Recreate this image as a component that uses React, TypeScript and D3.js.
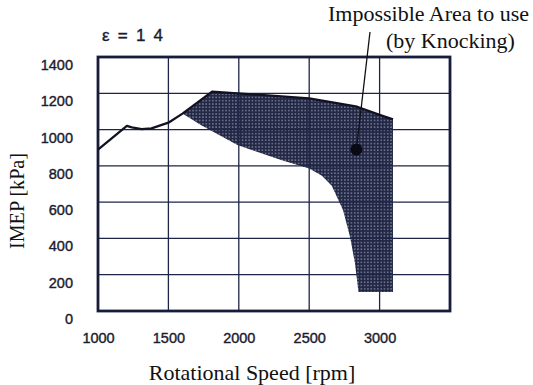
import React, { useEffect, useRef } from "react";
import * as d3 from "d3";

// axis ticks
const rpmTicks = [1000, 1500, 2000, 2500, 3000];
const imepTicks = [0, 200, 400, 600, 800, 1000, 1200, 1400];

// full-load IMEP line (upper curve)
const topRpm = [1000, 1205, 1240, 1310, 1380, 1500, 1600, 1810, 1990, 2500, 2840, 3005, 3095];
const topImep = [890, 1020, 1012, 1003, 1007, 1038, 1088, 1209, 1200, 1172, 1126, 1080, 1056];

// knock limit (lower edge of the shaded area), left to right
const knockRpm = [1600, 1730, 1990, 2300, 2500, 2590, 2660, 2740, 2790, 2825, 2850];
const knockImep = [1088, 1025, 915, 832, 786, 745, 690, 557, 409, 263, 105];

// corner where shaded area ends
const areaEndRpm = 3095;
const areaFloorImep = 105;

// annotation dot
const markRpm = 2835;
const markImep = 890;

const App = () => {
  const svgRef = useRef<SVGSVGElement>(null);

  useEffect(() => {
    const svg = d3.select(svgRef.current);
    svg.selectAll("*").remove();

    // ----- scales
    const x = d3.scaleLinear().domain([1000, 3500]).range([98, 450]);
    const y = d3.scaleLinear().domain([0, 1400]).range([311, 57]);

    // ----- dotted fill pattern
    const defs = svg.append("defs");
    const pat = defs
      .append("pattern")
      .attr("id", "dots")
      .attr("patternUnits", "userSpaceOnUse")
      .attr("width", 3.3)
      .attr("height", 3.3);
    pat.append("rect").attr("width", 3.3).attr("height", 3.3).attr("fill", "#232846");
    pat
      .append("circle")
      .attr("cx", 1.65)
      .attr("cy", 1.65)
      .attr("r", 0.7)
      .attr("fill", "#aeb3c6");

    // ----- shaded area: top curve from 1600, down the right side, back along knock limit
    const top = topRpm.map((r, i) => [r, topImep[i]] as [number, number]);
    const knock = knockRpm.map((r, i) => [r, knockImep[i]] as [number, number]);
    const areaPts: [number, number][] = [
      ...top.filter(d => d[0] >= 1600),
      [areaEndRpm, areaFloorImep],
      ...knock.slice().reverse()
    ];
    const line = d3
      .line<[number, number]>()
      .x(d => x(d[0]))
      .y(d => y(d[1]));

    svg
      .append("path")
      .attr("d", line(areaPts) + "Z")
      .attr("fill", "url(#dots)");

    // ----- grid
    const grid = svg.append("g").attr("stroke", "#1e2547").attr("stroke-width", 1.3);
    grid
      .selectAll(".vg")
      .data(rpmTicks.slice(1))
      .join("line")
      .attr("x1", d => x(d))
      .attr("x2", d => x(d))
      .attr("y1", y(1400))
      .attr("y2", y(0));
    grid
      .selectAll(".hg")
      .data(imepTicks.slice(1, -1))
      .join("line")
      .attr("x1", x(1000))
      .attr("x2", x(3500))
      .attr("y1", d => y(d))
      .attr("y2", d => y(d));

    // frame
    svg
      .append("rect")
      .attr("x", x(1000))
      .attr("y", y(1400))
      .attr("width", x(3500) - x(1000))
      .attr("height", y(0) - y(1400))
      .attr("fill", "none")
      .attr("stroke", "#171c3a")
      .attr("stroke-width", 2.8);

    // ----- upper IMEP curve
    svg
      .append("path")
      .attr("d", line(top))
      .attr("fill", "none")
      .attr("stroke", "#111122")
      .attr("stroke-width", 2.3)
      .attr("stroke-linejoin", "round");

    // ----- axes (labels only)
    const tickFont = "'Liberation Sans', Arial, sans-serif";
    const xAxis = svg
      .append("g")
      .attr("transform", `translate(0,${y(0)})`)
      .call(d3.axisBottom(x).tickValues(rpmTicks).tickSize(0).tickFormat(d3.format("d")));
    xAxis.select(".domain").remove();
    xAxis
      .selectAll("text")
      .attr("dy", null)
      .attr("y", 32)
      .attr("font-size", 14.5)
      .attr("font-family", tickFont)
      .attr("fill", "#1c1c30")
      .attr("stroke", "#1c1c30")
      .attr("stroke-width", 0.4);

    const yAxis = svg
      .append("g")
      .attr("transform", `translate(${x(1000)},0)`)
      .call(d3.axisLeft(y).tickValues(imepTicks).tickSize(0).tickPadding(25).tickFormat(d3.format("d")));
    yAxis.select(".domain").remove();
    yAxis
      .selectAll("text")
      .attr("dy", null)
      .attr("y", 12.5)
      .attr("font-size", 14.5)
      .attr("font-family", tickFont)
      .attr("fill", "#1c1c30")
      .attr("stroke", "#1c1c30")
      .attr("stroke-width", 0.4);

    // ----- titles
    const serif = "'Liberation Serif', 'Times New Roman', serif";
    svg
      .append("text")
      .attr("x", 252)
      .attr("y", 380)
      .attr("text-anchor", "middle")
      .attr("font-family", serif)
      .attr("font-size", 22)
      .attr("fill", "#111")
      .text("Rotational Speed [rpm]");

    svg
      .append("text")
      .attr("transform", "translate(24,201) rotate(-90)")
      .attr("text-anchor", "middle")
      .attr("font-family", serif)
      .attr("font-size", 22)
      .attr("fill", "#111")
      .attr("textLength", 96)
      .attr("lengthAdjust", "spacingAndGlyphs")
      .text("IMEP [kPa]");

    // compression ratio label
    svg
      .append("text")
      .attr("x", 102)
      .attr("y", 41)
      .attr("font-family", tickFont)
      .attr("font-size", 17)
      .attr("fill", "#1c1c30")
      .attr("stroke", "#1c1c30")
      .attr("stroke-width", 0.4)
      .attr("textLength", 61)
      .text("\u03b5 = 1 4");

    // ----- annotation
    svg
      .append("text")
      .attr("x", 328)
      .attr("y", 21)
      .attr("font-family", serif)
      .attr("font-size", 22)
      .attr("fill", "#111")
      .text("Impossible Area to use");
    svg
      .append("text")
      .attr("x", 386)
      .attr("y", 48)
      .attr("font-family", serif)
      .attr("font-size", 22)
      .attr("fill", "#111")
      .text("(by Knocking)");

    svg
      .append("line")
      .attr("x1", 370)
      .attr("y1", 32)
      .attr("x2", x(markRpm))
      .attr("y2", y(markImep))
      .attr("stroke", "#111")
      .attr("stroke-width", 1.3);
    svg
      .append("circle")
      .attr("cx", x(markRpm))
      .attr("cy", y(markImep))
      .attr("r", 6)
      .attr("fill", "#0a0a14");
  }, []);

  return (
    <svg
      ref={svgRef}
      width={533}
      height={385}
      style={{ position: "absolute", left: 0, top: 0, background: "#fff" }}
    />
  );
};

export default App;
